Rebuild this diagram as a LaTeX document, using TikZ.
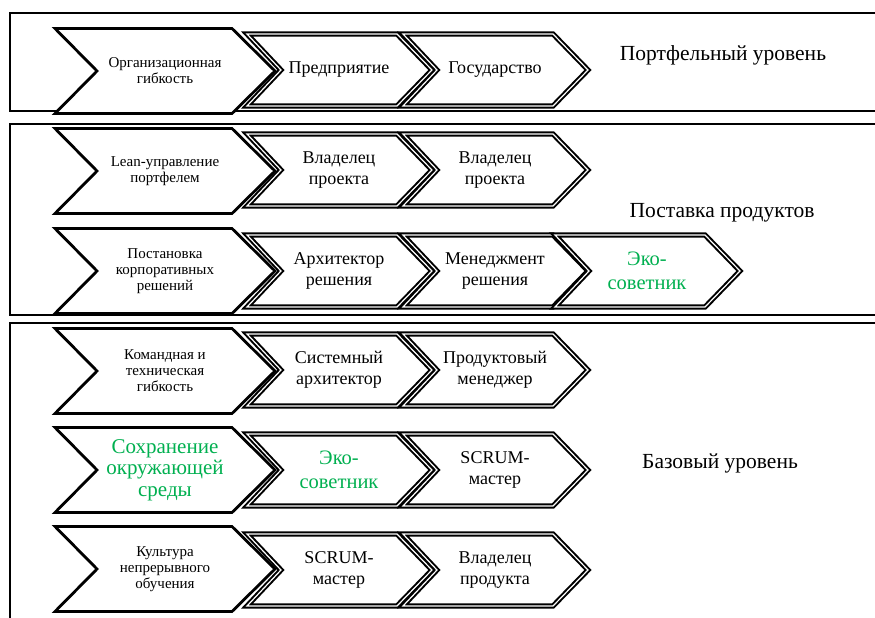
\documentclass[tikz,border=0pt]{standalone}
\usepackage{fontspec}
\setmainfont{Liberation Serif}
\definecolor{ecogreen}{RGB}{0,176,80}

\tikzset{
  framebox/.style={draw=black, line width=2.8pt},
  bigchevline/.style={draw=black, fill=white, line width=2.8pt, line join=miter},
  smallchevline/.style={draw=black, fill=white, double=white, double distance=1.2pt,
                        line width=2pt, line join=miter},
  bigtxt/.style={align=center, inner sep=0pt, font=\fontsize{15}{16}\selectfont},
  smalltxt/.style={align=center, inner sep=0pt, font=\fontsize{18}{21}\selectfont},
  greenbig/.style={align=center, inner sep=0pt, text=ecogreen, font=\fontsize{21}{21.5}\selectfont},
  greensmall/.style={align=center, inner sep=0pt, text=ecogreen, font=\fontsize{20.5}{23.5}\selectfont},
  leveltxt/.style={inner sep=0pt, font=\fontsize{21.5}{24}\selectfont},
}

% Large leading chevron: name, centre y, text, text style
\newcommand{\bigchev}[4]{%
  \draw[bigchevline] (55,#2-42.5) -- (232,#2-42.5) -- (275,#2) -- (232,#2+42.5)
        -- (55,#2+42.5) -- (97,#2) -- cycle;
  \node[#4] (#1) at (165,#2) {#3};
}

% Smaller chevron: name, left x, centre y, text, text style
\newcommand{\smallchev}[5]{%
  \draw[smallchevline] (#2,#3-36) -- (#2+150,#3-36) -- (#2+185,#3) -- (#2+150,#3+36)
        -- (#2,#3+36) -- (#2+34,#3) -- cycle;
  \node[#5] (#1) at (#2+92,#3) {#4};
}

\begin{document}
\begin{tikzpicture}[x=1pt, y=-1pt]
  \useasboundingbox (0,0) rectangle (875,618);
  \clip (0,0) rectangle (875,618);
  \fill[white] (0,0) rectangle (875,618);

  % level frames (open to the right and bottom)
  \draw[framebox] (10,13) rectangle (900,111);
  \draw[framebox] (10,124) rectangle (900,315);
  \draw[framebox] (10,323) rectangle (900,650);

  % portfolio level
  \bigchev{orgagile}{71}{Организационная\\гибкость}{bigtxt}
  \smallchev{enterprise}{247}{70}{Предприятие}{smalltxt}
  \smallchev{state}{403}{70}{Государство}{smalltxt}
  \node[leveltxt] (portfolio) at (723,55) {Портфельный уровень};

  % product delivery
  \bigchev{lean}{171}{Lean-управление\\портфелем}{bigtxt}
  \smallchev{owner1}{247}{170}{Владелец\\проекта}{smalltxt}
  \smallchev{owner2}{403}{170}{Владелец\\проекта}{smalltxt}
  \bigchev{corp}{271}{Постановка\\корпоративных\\решений}{bigtxt}
  \smallchev{solarch}{247}{271}{Архитектор\\решения}{smalltxt}
  \smallchev{solmgmt}{403}{271}{Менеджмент\\решения}{smalltxt}
  \smallchev{eco1}{555}{271}{Эко-\\советник}{greensmall}
  \node[leveltxt] (delivery) at (722,213) {Поставка продуктов};

  % base level
  \bigchev{team}{371}{Командная и\\техническая\\гибкость}{bigtxt}
  \smallchev{sysarch}{247}{370}{Системный\\архитектор}{smalltxt}
  \smallchev{prodmgr}{403}{370}{Продуктовый\\менеджер}{smalltxt}
  \bigchev{env}{470}{Сохранение\\окружающей\\среды}{greenbig}
  \smallchev{eco2}{247}{470}{Эко-\\советник}{greensmall}
  \smallchev{scrum1}{403}{470}{SCRUM-\\мастер}{smalltxt}
  \bigchev{learn}{569}{Культура\\непрерывного\\обучения}{bigtxt}
  \smallchev{scrum2}{247}{570}{SCRUM-\\мастер}{smalltxt}
  \smallchev{prodowner}{403}{570}{Владелец\\продукта}{smalltxt}
  \node[leveltxt] (base) at (720,463) {Базовый уровень};
\end{tikzpicture}
\end{document}
